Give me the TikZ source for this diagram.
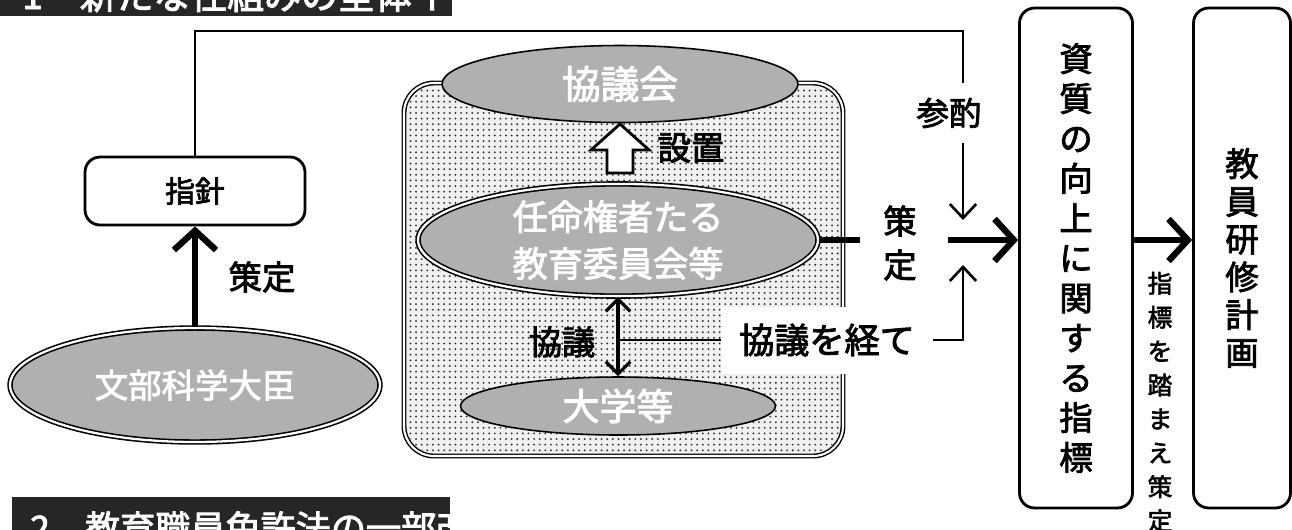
\documentclass[tikz,border=0pt]{standalone}
\usepackage{fontspec}
\setmainfont{Noto Sans CJK JP}[BoldFont={Noto Sans CJK JP}, BoldFeatures={FakeBold=2.5}]
\usetikzlibrary{shapes.geometric, arrows.meta, patterns.meta}
\newcommand{\fsz}[2]{\fontsize{#1pt}{#2pt}\selectfont\bfseries}
\begin{document}
\begin{tikzpicture}[x=0.02cm, y=-0.02cm,
  thinline/.style={line width=1.5pt},
  thinarrow/.style={line width=1.5pt, -{Straight Barb[length=8pt,width=15pt,line width=1.5pt]}},
  thickarrow/.style={line width=3.6pt, -{Straight Barb[length=11pt,width=24pt,line width=3.6pt]}},
  ell/.style={ellipse, draw=black, line width=0.9pt, fill=gray!62, text=white, inner sep=0pt},
  dell/.style={ell, double=white, double distance=1.3pt},
  rbox/.style={draw=black, line width=1.6pt, rounded corners=0.3cm, fill=white, inner sep=0pt},
  lbl/.style={inner sep=0pt, text=black}
]
\useasboundingbox (0,0) rectangle (1292,529);
\fill[white] (0,0) rectangle (1292,529);

% header bands
\fill[gray!30!black] (0,0) rectangle (452,16);
\begin{scope}
  \clip (0,0) rectangle (452,16);
  \node[lbl, text=white, anchor=base west, font=\fsz{21}{21}] (head1) at (22,9) {1　新たな仕組みの全体イメージ};
\end{scope}
\fill[gray!30!black] (12,497) rectangle (450,540);
\node[lbl, text=white, anchor=base west, font=\fsz{20}{20}] (head2) at (30,541) {2　教育職員免許法の一部改正};

% left part
\node[rbox, minimum width=4.4cm, minimum height=1.36cm, font=\fsz{17}{17}] (shishin) at (195,191) {指針};
\node[dell, minimum width=7.4cm, minimum height=2.28cm, font=\fsz{19}{19}] (monbu) at (195,385) {文部科学大臣};
\draw[thickarrow] (monbu.north) -- (shishin.south);
\node[lbl, font=\fsz{19}{19}] (sakutei1) at (262,277) {策定};

% dotted region
\draw[line width=0.8pt, double=white, double distance=1.2pt, rounded corners=0.6cm, fill=gray!12] (404,83) rectangle (843,456);
\fill[pattern={Dots[distance=3.2pt,radius=0.6pt]}, pattern color=black!80, rounded corners=0.55cm] (407,86) rectangle (840,453);

\node[ell, minimum width=7.12cm, minimum height=1.54cm, font=\fsz{22}{22}] (kyogikai) at (620,84) {協議会};
\node[dell, minimum width=8cm, minimum height=2.22cm, align=center, font=\fsz{20}{26.6}] (ninmei) at (618,240) {任命権者たる\\教育委員会等};
\node[ell, minimum width=6.3cm, minimum height=1.16cm, font=\fsz{21}{21}] (daigaku) at (618,406) {大学等};

% hollow arrow (setchi)
\draw[line width=1.6pt, fill=white, line join=miter] (620,124) -- (649,150) -- (633,150) -- (633,173) -- (607,173) -- (607,150) -- (591,150) -- cycle;
\node[lbl, font=\fsz{19}{19}] (setchi) at (691,148) {設置};

% kyogi double arrow
\draw[line width=1.8pt, {Straight Barb[length=7pt,width=14pt,line width=1.8pt]}-{Straight Barb[length=7pt,width=14pt,line width=1.8pt]}] (ninmei.south) -- (daigaku.north);
\node[lbl, font=\fsz{19}{19}] (kyogi) at (562,342) {協議};
\coordinate (kj) at (618,340);
\node[fill=white, inner sep=0pt, minimum width=4.24cm, minimum height=1.34cm, font=\fsz{20}{20}] (kwk) at (827,340) {協議を経て};
\draw[thinline] (kj) -- (kwk.west);
\coordinate (lowtip) at (963,265);
\draw[thinarrow] (kwk.east) -| (lowtip);

% sakutei (right of ninmei)
\coordinate (s2end) at (860,240);
\draw[line width=3.6pt] (ninmei.east) -- (s2end);
\node[lbl, align=center, font=\fsz{19}{25}] (sakutei2) at (900,243) {策\\定};

% right boxes
\node[rbox, minimum width=2.26cm, minimum height=10cm, align=center, font=\fsz{19}{22.7}] (shishitsu) at (1076,258) {資\\質\\の\\向\\上\\に\\関\\す\\る\\指\\標};
\node[rbox, minimum width=1.94cm, minimum height=10cm, align=center, font=\fsz{19}{21.5}] (kyoin) at (1242,258) {教\\員\\研\\修\\計\\画};
\coordinate (tkstart) at (948,240);
\draw[thickarrow] (tkstart) -- (shishitsu.west |- tkstart);
\draw[thickarrow] (shishitsu.east |- tkstart) -- (kyoin.west |- tkstart);
\node[lbl, align=center, font=\fsz{14}{19.3}] (fumae) at (1160,402) {指\\標\\を\\踏\\ま\\え\\策\\定};

% top connector with sanshaku
\coordinate (topR) at (963,31);
\coordinate (sanA) at (963,83);
\coordinate (sanB) at (963,143);
\coordinate (uptip) at (963,220);
\draw[thinline] (shishin.north) |- (topR) -- (sanA);
\node[lbl, font=\fsz{18.5}{18.5}] (sansyaku) at (949,113) {参酌};
\draw[thinarrow] (sanB) -- (uptip);
\end{tikzpicture}
\end{document}
